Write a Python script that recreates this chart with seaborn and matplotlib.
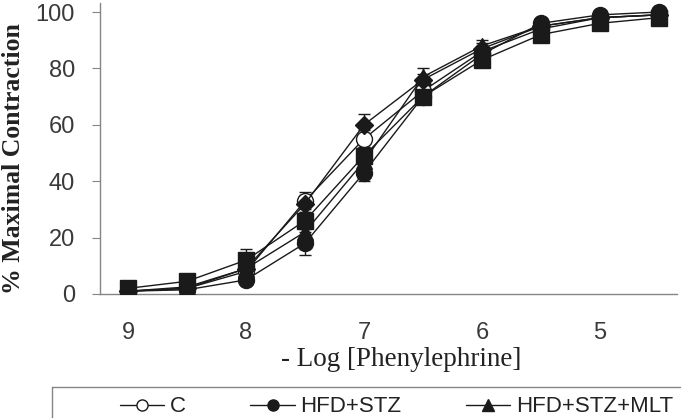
import pandas as pd
import seaborn as sns
import matplotlib.pyplot as plt
from matplotlib.lines import Line2D

# -log [phenylephrine] steps
log_conc = [9, 8.5, 8, 7.5, 7, 6.5, 6, 5.5, 5, 4.5]
tick_vals = [9, 8, 7, 6, 5]

groups = ['C', 'HFD+STZ', 'HFD+STZ+MLT', 'HFD', 'HFD+MLT']
c_vals = [1, 2, 8, 33, 55, 72, 86, 94, 98, 99]
hfdstz_vals = [1, 1.5, 5, 18, 43, 70, 85, 96, 99, 100]
hfdstzmlt_vals = [1, 2.5, 9, 22, 47, 77, 88, 95, 98, 99]
hfd_vals = [2, 4.5, 12, 26, 49, 70, 83, 92, 96, 98]
hfdmlt_vals = [1, 2, 9, 32, 60, 76, 87, 95, 98, 99]
c_err = [0.5, 0.5, 1, 3, 3, 2, 2, 1, 1, 0.5]
hfdstz_err = [0.5, 0.5, 1, 4, 3, 2, 2, 1, 0.5, 0.5]
hfdstzmlt_err = [0.5, 0.5, 2, 3, 3, 3, 2, 1, 1, 0.5]
hfd_err = [0.5, 1, 4, 3, 3, 2, 2, 2, 1, 1]
hfdmlt_err = [0.5, 0.5, 2, 3, 4, 2, 2, 1, 1, 0.5]

vals = [c_vals, hfdstz_vals, hfdstzmlt_vals, hfd_vals, hfdmlt_vals]
errs = [c_err, hfdstz_err, hfdstzmlt_err, hfd_err, hfdmlt_err]
markers = ['o', 'o', '^', 's', 'D']
faces = ['white', '#1a1a1a', '#1a1a1a', '#1a1a1a', '#1a1a1a']
sizes = [11.5, 11.5, 11.5, 11, 9]

rows = []
for g, v, e in zip(groups, vals, errs):
    for x, y, err in zip(log_conc, v, e):
        rows.append({'logc': x, 'value': y, 'err': err, 'group': g})
df = pd.DataFrame(rows)

sns.set_style('white')
plt.rcParams['font.family'] = ['Liberation Sans', 'DejaVu Sans']

fig = plt.figure(figsize=(6.83, 4.18), dpi=100)
ax = fig.add_axes([100 / 683, 1 - 294 / 418, 577 / 683, 291 / 418])

draw_order = [3, 2, 4, 1, 0]
for i in draw_order:
    sub = df[df.group == groups[i]]
    ax.errorbar(sub.logc, sub.value, yerr=sub.err, fmt='none', ecolor='#1a1a1a',
                elinewidth=1, capsize=4, capthick=1, zorder=2 + i * 0.1)
    sns.lineplot(data=sub, x='logc', y='value', ax=ax, color='#1a1a1a', lw=1,
                 marker=markers[i], markersize=sizes[i], markerfacecolor=faces[i],
                 markeredgecolor='#1a1a1a', markeredgewidth=1, zorder=3 + i * 0.1,
                 legend=False)

ax.set_xlim(9.237, 4.347)
ax.set_ylim(0, 103.2)
ax.set_xticks(tick_vals)
ax.set_xticklabels([str(t) for t in tick_vals])
ax.set_yticks([0, 20, 40, 60, 80, 100])
ax.spines['top'].set_visible(False)
ax.spines['right'].set_visible(False)
for sp in ['left', 'bottom']:
    ax.spines[sp].set_color('#858585')
    ax.spines[sp].set_linewidth(1)
ax.tick_params(axis='y', left=True, length=6, color='#858585', labelsize=17,
               labelcolor='#3a3a3a', pad=12)
ax.tick_params(axis='x', bottom=False, labelsize=17, labelcolor='#3a3a3a', pad=17)

ax.set_xlabel('- Log [Phenylephrine]', family='Liberation Serif', fontsize=19.5,
              color='#222222')
ax.xaxis.set_label_coords(0.5225, -0.182)
ax.set_ylabel('% Maximal Contraction', family='Liberation Serif', fontsize=18.5,
              fontweight='bold', color='#222222')
ax.yaxis.set_label_coords(-0.13, 0.466)

handles = [Line2D([], [], color='#1a1a1a', lw=1, marker=m, markersize=8,
                  markerfacecolor=f, markeredgecolor='#1a1a1a')
           for m, f in zip(markers[:3], faces[:3])]
leg = fig.legend(handles, groups[:3], ncol=3, loc='center left',
                 bbox_to_anchor=(120 / 683, 1 - 407 / 418), frameon=False,
                 fontsize=16, handlelength=2.0, handletextpad=0.25,
                 columnspacing=2.9, borderpad=0, borderaxespad=0)
for t in leg.get_texts():
    t.set_color('#222222')

# legend box outline (only top and left edges fall inside the picture)
fig.add_artist(Line2D([52 / 683, 680 / 683], [1 - 387 / 418, 1 - 387 / 418],
                      color='#858585', lw=1, transform=fig.transFigure))
fig.add_artist(Line2D([52 / 683, 52 / 683], [1 - 387 / 418, 0],
                      color='#858585', lw=1, transform=fig.transFigure))

fig.savefig('out.png', dpi=100)
